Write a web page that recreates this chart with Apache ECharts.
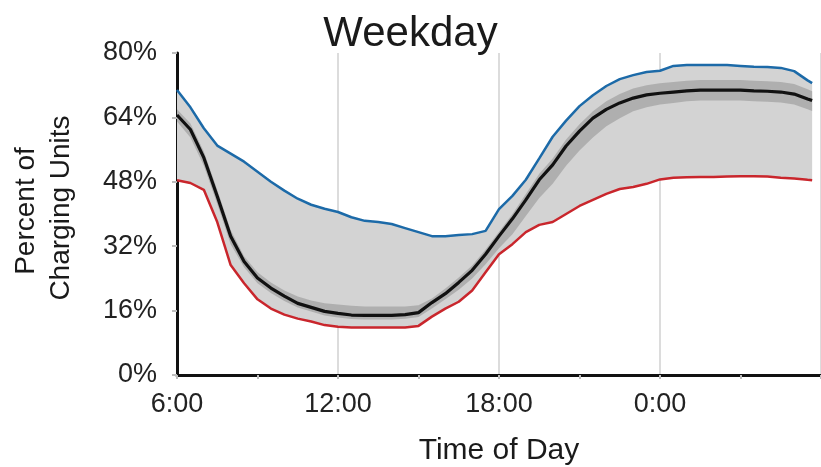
<!DOCTYPE html>
<html>
<head>
<meta charset="utf-8">
<script src="https://cdn.jsdelivr.net/npm/echarts@6/dist/echarts.min.js"></script>
<style>
html,body{margin:0;padding:0;background:#fff;}
#chart{width:821px;height:467px;}
</style>
</head>
<body>
<div id="chart"></div>
<script>
// Hours of day (6 = 6:00, 24 = 0:00 next day, 30 = 6:00 next day)
const hours = [6,6.5,7,7.5,8,8.5,9,9.5,10,10.5,11,11.5,12,12.5,13,13.5,14,14.5,15,15.5,16,16.5,17,17.5,18,18.5,19,19.5,20,20.5,21,21.5,22,22.5,23,23.5,24,24.5,25,25.5,26,26.5,27,27.5,28,28.5,29,29.5,29.67];
// Upper envelope (blue)
const upper = [70.8,66.5,61.3,57.0,55.0,53.0,50.5,48.0,45.8,43.8,42.3,41.3,40.5,39.2,38.3,38.0,37.5,36.5,35.5,34.5,34.5,34.8,35.0,35.8,41.2,44.5,48.5,53.8,59.2,63.2,66.8,69.5,71.8,73.5,74.5,75.3,75.6,76.8,77.0,77.0,77.0,77.0,76.8,76.6,76.5,76.3,75.5,73.2,72.5];
// Central line (black)
const median = [64.6,61.0,54.0,44.4,34.5,28.2,24.1,21.6,19.6,17.8,16.8,15.8,15.3,14.9,14.8,14.8,14.8,15.0,15.5,18.0,20.2,23.0,26.0,30.0,34.5,38.8,43.5,48.5,52.2,56.9,60.6,63.8,66.0,67.6,68.8,69.6,70.0,70.3,70.6,70.8,70.8,70.8,70.8,70.6,70.5,70.3,69.8,68.6,68.2];
// Lower envelope (red)
const lower = [48.4,47.7,46.0,38.0,27.3,22.8,18.8,16.5,15.0,14.0,13.3,12.4,12.0,11.8,11.8,11.8,11.8,11.8,12.2,14.5,16.5,18.2,21.0,25.5,30.0,32.5,35.5,37.3,38.0,40.0,42.0,43.5,45.0,46.2,46.7,47.5,48.6,49.0,49.1,49.2,49.2,49.3,49.4,49.4,49.3,49.0,48.8,48.5,48.4];
// Inner darker band around central line
const darkHigh = [66.0,62.5,55.5,46.0,36.0,29.5,25.5,23.0,21.0,19.5,18.5,17.8,17.5,17.2,17.0,17.0,17.0,17.0,17.3,19.0,21.5,24.2,27.2,31.2,35.6,40.0,45.0,50.0,53.8,58.5,62.3,65.5,68.0,69.8,71.2,72.0,72.5,72.8,73.1,73.3,73.3,73.3,73.3,73.1,73.0,72.8,72.3,71.0,70.5];
const darkLow = [63.0,59.0,52.0,42.5,32.5,26.8,22.8,20.4,18.4,16.8,15.8,14.8,14.3,13.9,13.8,13.8,13.8,14.0,14.4,16.5,18.8,21.2,24.0,27.5,31.5,35.0,39.5,44.0,47.5,52.0,55.8,59.0,61.8,63.8,65.5,66.5,67.2,67.6,68.0,68.2,68.2,68.2,68.2,68.0,67.9,67.7,67.2,66.0,65.6];
const yTicks = [0,16,32,48,64,80];

const FONT = 'Liberation Sans, Arial, sans-serif';
const pairs = arr => hours.map((h,i)=>[h,arr[i]]);

function bandSeries(hi, lo, fill, z){
  return {
    type:'custom', silent:true, z:z, data:[[hours[0], lo[0]]],
    encode:{x:0, y:1},
    renderItem:function(params, api){
      const top = hours.map((h,i)=>api.coord([h, hi[i]]));
      const bot = hours.map((h,i)=>api.coord([h, lo[i]])).reverse();
      return {type:'polygon', shape:{points: top.concat(bot)}, style:{fill:fill, stroke:null}};
    }
  };
}

const chart = echarts.init(document.getElementById('chart'), null, {renderer:'canvas'});
chart.setOption({
  animation:false,
  backgroundColor:'#ffffff',
  title:{text:'Weekday', left:'center', top:8,
    textStyle:{fontSize:42, fontWeight:'normal', color:'#1a1a1a', fontFamily:FONT}},
  grid:{left:177, top:53, width:653, height:322, containLabel:false},
  xAxis:{type:'value', min:6, max:30, interval:6,
    axisLine:{show:true, onZero:false, lineStyle:{color:'#111', width:3}},
    axisTick:{show:true, length:4, lineStyle:{color:'#bdbdbd', width:2}},
    minorTick:{show:true, splitNumber:2, length:4, lineStyle:{color:'#bdbdbd', width:2}},
    splitLine:{show:true, lineStyle:{color:'#dcdcdc', width:2}},
    axisLabel:{fontSize:27, color:'#222', margin:16, fontFamily:FONT, showMaxLabel:false,
      formatter: v => (Math.round(v)%24)+':00'}},
  yAxis:{type:'value', min:yTicks[0], max:yTicks[yTicks.length-1], interval:16,
    axisLine:{show:true, lineStyle:{color:'#111', width:3}},
    axisTick:{show:true, length:5, lineStyle:{color:'#bdbdbd', width:2}},
    splitLine:{show:false},
    axisLabel:{fontSize:27, color:'#222', margin:20, fontFamily:FONT, formatter:'{value}%'}},
  graphic:[
    {type:'text', x:26, y:211, rotation:Math.PI/2,
      style:{text:'Percent of', fontSize:28, fontFamily:FONT, fill:'#1a1a1a', textAlign:'center', textVerticalAlign:'middle'}},
    {type:'text', x:61, y:208, rotation:Math.PI/2,
      style:{text:'Charging Units', fontSize:28, fontFamily:FONT, fill:'#1a1a1a', textAlign:'center', textVerticalAlign:'middle'}},
    {type:'text', x:499, y:451,
      style:{text:'Time of Day', fontSize:30, fontFamily:FONT, fill:'#1a1a1a', textAlign:'center', textVerticalAlign:'middle'}}
  ],
  series:[
    bandSeries(upper, lower, '#d3d3d3', 1),
    bandSeries(darkHigh, darkLow, 'rgba(140,140,140,0.5)', 2),
    {type:'line', name:'lower', data:pairs(lower), symbol:'none', z:3,
      lineStyle:{color:'#c9262c', width:2.5}},
    {type:'line', name:'upper', data:pairs(upper), symbol:'none', z:3,
      lineStyle:{color:'#1c6aa8', width:2.5}},
    {type:'line', name:'median', data:pairs(median), symbol:'none', z:4,
      lineStyle:{color:'#111', width:3.2}}
  ]
});
</script>
</body>
</html>
